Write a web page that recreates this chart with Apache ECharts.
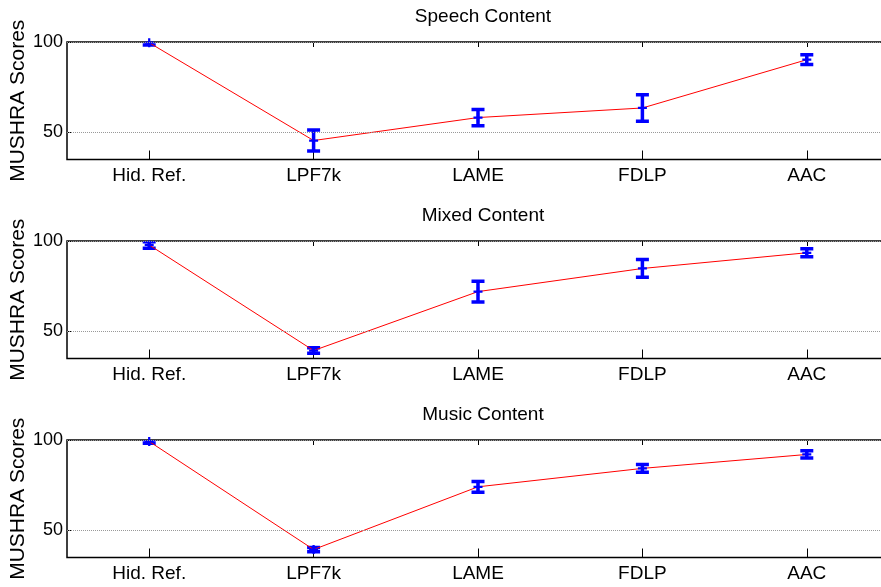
<!DOCTYPE html>
<html>
<head>
<meta charset="utf-8"/>
<script src="https://cdn.jsdelivr.net/npm/echarts@6.0.0/dist/echarts.min.js"></script>
<style>
  html, body { margin: 0; padding: 0; background: #fff; }
</style>
</head>
<body>
<div id="main" style="width: 881px; height: 587px;"></div>
<script>
// categories and values
var methods = ['Hid. Ref.', 'LPF7k', 'LAME', 'FDLP', 'AAC'];
var titles = ['Speech Content', 'Mixed Content', 'Music Content'];
var speechMean = [99.6, 45.5, 58.2, 63.5, 90.2];
var speechErr = [1.2, 5.8, 4.5, 7.3, 2.7];
var mixedMean = [97.8, 39.4, 72.0, 84.8, 93.5];
var mixedErr = [1.8, 1.5, 5.7, 4.9, 2.2];
var musicMean = [99.2, 39.4, 74.1, 84.3, 92.0];
var musicErr = [1.0, 1.2, 3.0, 2.2, 2.0];
var yTicks = [50, 100];

var means = [speechMean, mixedMean, musicMean];
var errs = [speechErr, mixedErr, musicErr];

var font = 'Liberation Sans, Arial, sans-serif';
var tops = [42, 241, 440];

var myChart = echarts.init(document.getElementById('main'));

var option = {
  backgroundColor: '#fff',
  animation: false,
  title: [],
  grid: [],
  xAxis: [],
  yAxis: [],
  series: []
};

function renderErr(params, api) {
  var x = api.value(0);
  var p1 = api.coord([x, api.value(2)]);
  var p2 = api.coord([x, api.value(1)]);
  var hw = 6.5;
  var st = { stroke: '#0000ff', lineWidth: 3.5 };
  return {
    type: 'group',
    children: [
      { type: 'line', shape: { x1: p1[0], y1: p1[1], x2: p2[0], y2: p2[1] }, style: st },
      { type: 'line', shape: { x1: p1[0] - hw, y1: p1[1], x2: p1[0] + hw, y2: p1[1] }, style: st },
      { type: 'line', shape: { x1: p2[0] - hw, y1: p2[1], x2: p2[0] + hw, y2: p2[1] }, style: st }
    ]
  };
}

for (var i = 0; i < 3; i++) {
  option.title.push({
    text: titles[i],
    left: 478,
    top: tops[i] - 40,
    textAlign: 'center',
    textStyle: { fontFamily: font, fontSize: 19, fontWeight: 'normal', color: '#000' }
  });
  option.grid.push({
    left: 67, top: tops[i], width: 822, height: 117.5,
    outerBoundsMode: 'none',
    show: true, borderColor: '#000', borderWidth: 1.5
  });
  // bottom axis with labels
  option.xAxis.push({
    type: 'category', gridIndex: i, data: methods, position: 'bottom',
    axisLine: { show: false },
    axisTick: { show: true, inside: true, alignWithLabel: true, length: 9, lineStyle: { color: '#000' } },
    axisLabel: { fontFamily: font, fontSize: 19, color: '#000', margin: 7 },
    splitLine: { show: false }
  });
  // top axis, ticks only
  option.xAxis.push({
    type: 'category', gridIndex: i, data: methods, position: 'top',
    axisLine: { show: false },
    axisTick: { show: true, inside: true, alignWithLabel: true, length: 5, lineStyle: { color: '#000' } },
    axisLabel: { show: false },
    splitLine: { show: false }
  });
  option.yAxis.push({
    type: 'value', gridIndex: i, min: 35, max: 100,
    name: 'MUSHRA Scores', nameLocation: 'middle', nameRotate: 90, nameGap: 38,
    nameMoveOverlap: false,
    nameTextStyle: { fontFamily: font, fontSize: 21, color: '#000' },
    axisLine: { show: false },
    axisTick: { show: true, inside: true, length: 5, customValues: yTicks, lineStyle: { color: '#000' } },
    axisLabel: { fontFamily: font, fontSize: 18, color: '#000', margin: 4, customValues: yTicks },
    splitLine: { show: false }
  });

  var errData = methods.map(function (m, j) {
    return [j, means[i][j] - errs[i][j], means[i][j] + errs[i][j]];
  });
  option.series.push({
    type: 'custom',
    xAxisIndex: i * 2, yAxisIndex: i,
    renderItem: renderErr,
    encode: { x: 0, y: [1, 2] },
    data: errData,
    clip: true,
    z: 2
  });
  option.series.push({
    type: 'line',
    xAxisIndex: i * 2, yAxisIndex: i,
    data: means[i],
    symbol: 'path://M3,0h2v3h3v2h-3v3h-2v-3h-3v-2h3z',
    symbolSize: 9,
    itemStyle: { color: '#0000ff' },
    lineStyle: { color: '#ff0000', width: 1 },
    markLine: {
      silent: true, symbol: 'none', label: { show: false },
      lineStyle: { color: '#999', type: 'dotted', width: 1 },
      data: yTicks.map(function (v) { return { yAxis: v }; })
    },
    z: 3
  });
}

myChart.setOption(option);
</script>
</body>
</html>
